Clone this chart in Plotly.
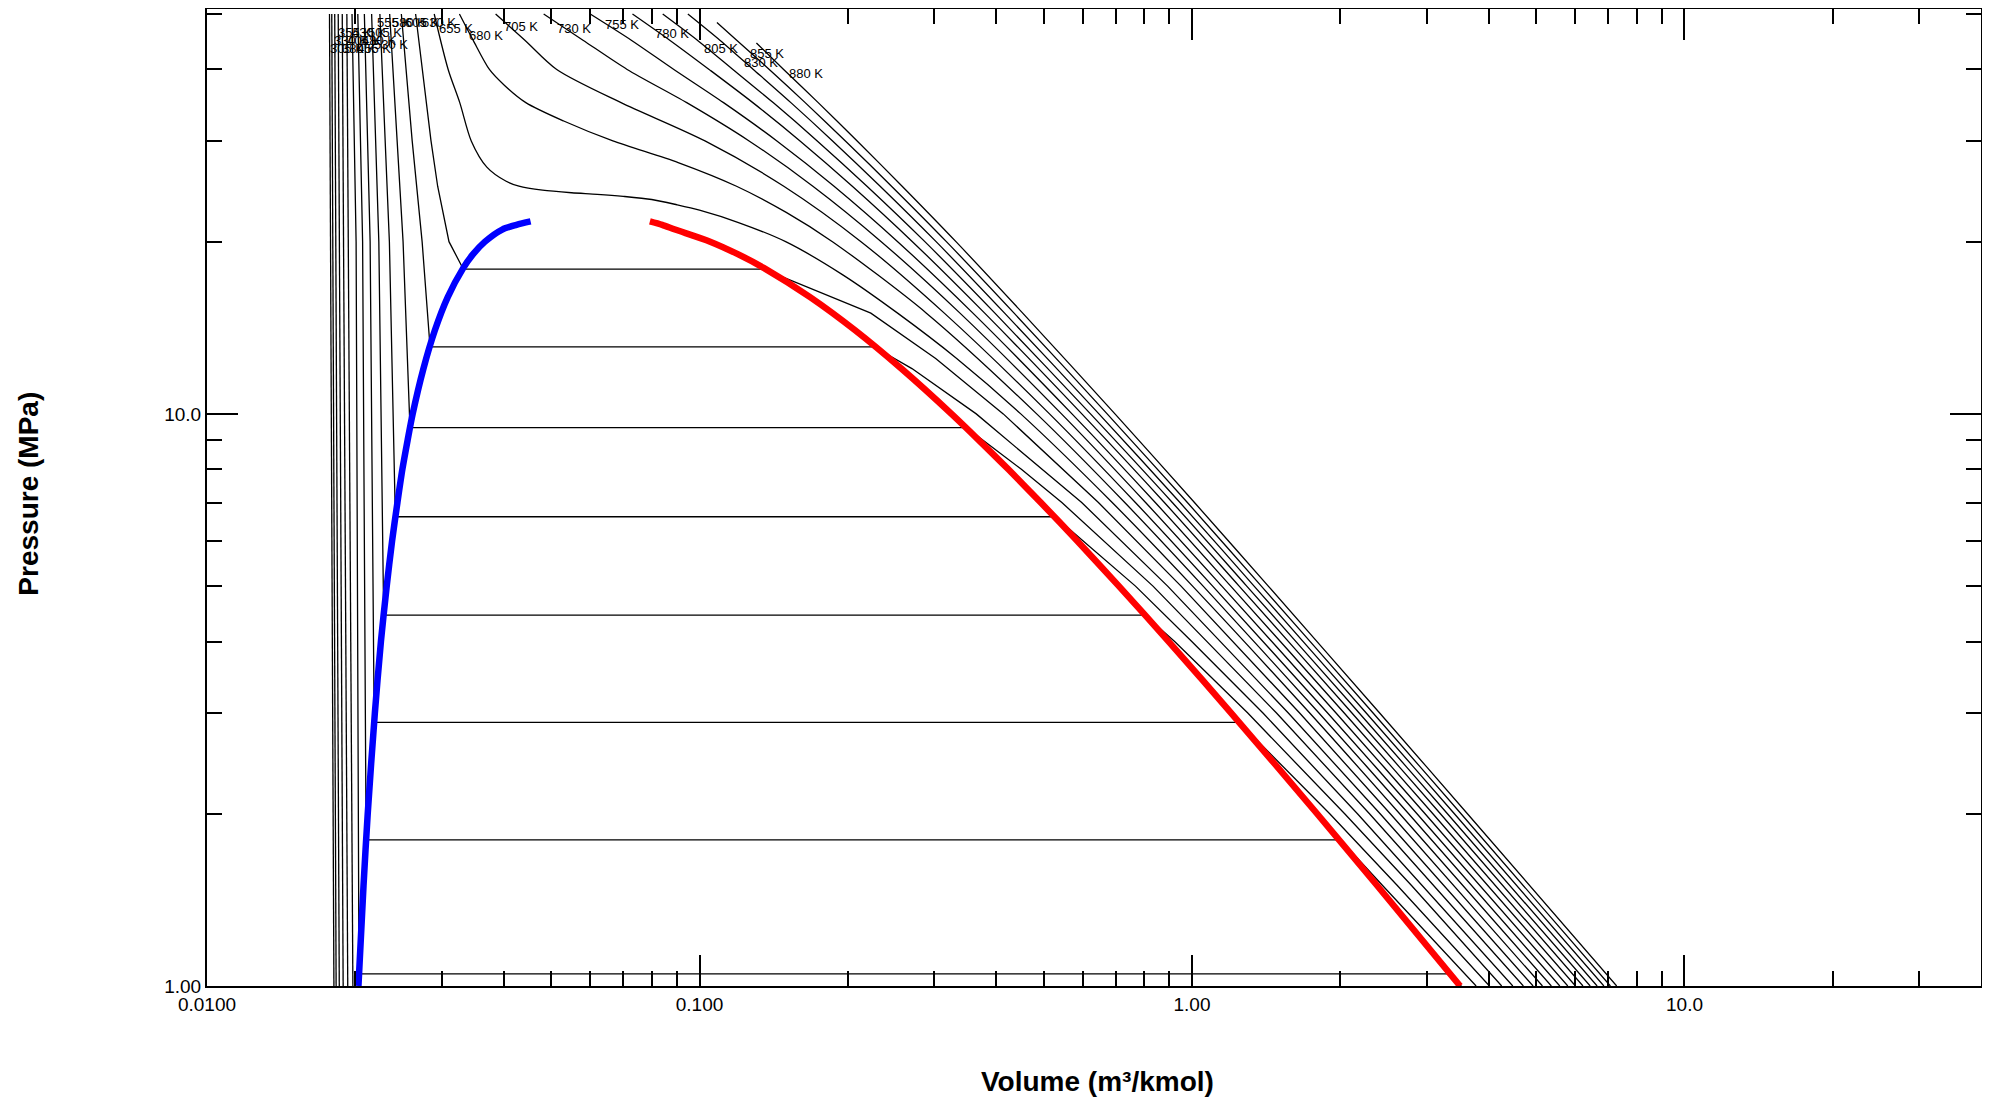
import plotly.graph_objects as go
import math

# ---------------- data ----------------
# Isotherm temperatures (K)
temps = [305, 330, 355, 380, 405, 430, 455, 480, 505, 530, 555, 580, 605, 630,
         655, 680, 705, 730, 755, 780, 805, 830, 855, 880]

# Pressure (MPa) / molar volume (m3/kmol) points of each isotherm, top to bottom
iso_P = {
    305: [50, 1], 330: [50, 1], 355: [50, 1], 380: [50, 1], 405: [50, 1], 430: [50, 1],
    455: [50, 20, 1.05, 1.05, 1.0],
    480: [50, 20, 1.80, 1.80, 1.5, 1.0],
    505: [50, 20, 2.89, 2.89, 2.0, 1.5, 1.0],
    530: [50, 20, 4.45, 4.45, 4.0, 3.0, 2.0, 1.5, 1.0],
    555: [50, 20, 6.61, 6.61, 5.0, 4.0, 3.0, 2.0, 1.0],
    580: [50, 30, 20, 9.46, 9.46, 8.0, 7.0, 5.0, 3.0, 2.0, 1.0],
    605: [50, 30, 20, 13.1, 13.1, 12.0, 10.0, 7.0, 5.0, 3.0, 2.0, 1.0],
    630: [50, 40, 30, 25, 20, 17.9, 17.9, 15.0, 12.5, 10.0, 7.0, 5.0, 3.0, 2.0, 1.0],
    655: [50, 40, 35, 30, 27, 25.5, 25.0, 24.6, 24.35, 24.2, 24.0, 23.7, 23.2, 22.7, 21.6,
          20, 17.5, 15, 12.5, 10, 7, 5, 3, 2, 1],
    680: [50, 45, 40, 37.5, 35, 32.5, 30, 27.5, 25, 22.5, 20, 15, 10, 7, 5, 3, 2, 1],
    705: [50, 45, 40, 35, 30, 25, 20, 15, 10, 7, 5, 3, 2, 1],
    730: [50, 45, 40, 35, 30, 25, 20, 15, 10, 7, 5, 3, 2, 1],
    755: [50, 45, 40, 35, 30, 25, 20, 15, 10, 7, 5, 3, 2, 1],
    780: [50, 45, 40, 35, 30, 25, 20, 15, 10, 7, 5, 3, 2, 1],
    805: [50, 45, 40, 35, 30, 25, 20, 15, 10, 7, 5, 3, 2, 1],
    830: [50, 45, 40, 35, 30, 25, 20, 15, 10, 7, 5, 3, 2, 1],
    855: [48.3, 45, 40, 35, 30, 25, 20, 15, 10, 7, 5, 3, 2, 1],
    880: [44.5, 40, 35, 30, 25, 20, 15, 10, 7, 5, 3, 2, 1],
}
iso_V = {
    305: [0.01773, 0.01810], 330: [0.01792, 0.01829], 355: [0.01817, 0.01856],
    380: [0.01847, 0.01890], 405: [0.01882, 0.01931], 430: [0.01923, 0.01978],
    455: [0.01970, 0.02008, 0.02035, 3.360, 3.522],
    480: [0.02024, 0.02070, 0.02104, 2.003, 2.435, 3.775],
    505: [0.02087, 0.02144, 0.02185, 1.247, 1.904, 2.609, 4.018],
    530: [0.02159, 0.02233, 0.02284, 0.8028, 0.9221, 1.298, 2.042, 2.788, 4.254],
    555: [0.02244, 0.02346, 0.02412, 0.5271, 0.7678, 0.999, 1.3935, 2.1676, 4.481],
    580: [0.02349, 0.0243, 0.02501, 0.02583, 0.3484, 0.4504, 0.5442, 0.8333, 1.4846, 2.293, 4.708],
    605: [0.02481, 0.0261, 0.02734, 0.02837, 0.2263, 0.2700, 0.3647, 0.5971, 0.8923, 1.5689, 2.410, 4.927],
    630: [0.02652, 0.0274, 0.0285, 0.0294, 0.0310, 0.03315, 0.1349, 0.2228, 0.3017, 0.4138,
          0.6457, 0.9501, 1.6541, 2.527, 5.148],
    655: [0.02893, 0.03088, 0.0326, 0.0344, 0.0370, 0.0405, 0.043, 0.048, 0.055, 0.062, 0.070,
          0.080, 0.090, 0.100, 0.120, 0.1496, 0.1954, 0.2525, 0.3328, 0.4491, 0.6887, 1.0027,
          1.7339, 2.6406, 5.366],
    680: [0.03255, 0.0347, 0.03745, 0.0402, 0.0444, 0.053, 0.0667, 0.0905, 0.1189, 0.150, 0.1862,
          0.2889, 0.4838, 0.7302, 1.0536, 1.8101, 2.7535, 5.582],
    705: [0.03855, 0.0442, 0.0513, 0.0693, 0.1026, 0.1483, 0.2128, 0.3141, 0.5137, 0.7675,
          1.1014, 1.8852, 2.8633, 5.795],
    730: [0.04826, 0.058, 0.0713, 0.0942, 0.1261, 0.1699, 0.2339, 0.3380, 0.5433, 0.8050,
          1.1497, 1.9610, 2.9734, 6.007],
    755: [0.0600, 0.0727, 0.0887, 0.1119, 0.1436, 0.1876, 0.2526, 0.3591, 0.5706, 0.8422,
          1.1985, 2.0374, 3.0840, 6.221],
    780: [0.0731, 0.0870, 0.1046, 0.1283, 0.1600, 0.2043, 0.2706, 0.3794, 0.5975, 0.8788,
          1.2466, 2.1124, 3.1942, 6.434],
    805: [0.0842, 0.0990, 0.1169, 0.1411, 0.1734, 0.2188, 0.2868, 0.3980, 0.6222, 0.9122,
          1.2916, 2.1852, 3.3016, 6.647],
    830: [0.0947, 0.1100, 0.1286, 0.1533, 0.1863, 0.2327, 0.3023, 0.4164, 0.6472, 0.9453,
          1.3369, 2.2583, 3.4103, 6.860],
    855: [0.1085, 0.1190, 0.1386, 0.1639, 0.1978, 0.2454, 0.3172, 0.4353, 0.6726, 0.9787,
          1.3828, 2.3318, 3.518, 7.072],
    880: [0.1305, 0.1482, 0.1742, 0.2090, 0.2579, 0.3317, 0.4532, 0.6976, 1.0116, 1.4287,
          2.4046, 3.6249, 7.283],
}
# isotherms whose course is smooth (no tie line) get a spline
smooth_T = [655, 680, 705, 730, 755, 780, 805, 830, 855, 880]

# Saturation dome (MPa, m3/kmol)
sat_P = [1.0, 1.5, 2, 3, 4, 5, 6, 7, 8, 9, 10, 12, 14, 16, 18, 19, 20, 21, 21.4, 21.7]
sat_liq_V = [0.02030, 0.02079, 0.02120, 0.02192, 0.02255, 0.02317, 0.02376, 0.02436, 0.02493,
             0.02555, 0.02616, 0.02751, 0.02902, 0.03082, 0.03315, 0.03466, 0.03668, 0.03976,
             0.0425, 0.0454]
sat_vap_V = [3.503, 2.374, 1.795, 1.2012, 0.8968, 0.7105, 0.5844, 0.4931, 0.4237, 0.3689,
             0.3248, 0.2569, 0.2070, 0.1677, 0.1350, 0.1199, 0.1051, 0.0892, 0.0840, 0.0793]

# Isotherm label anchor points (m3/kmol, MPa)
label_T = [305, 330, 355, 380, 405, 430, 455, 480, 505, 530, 555, 580, 605, 630,
           655, 680, 705, 730, 755, 780, 805, 830, 855, 880]
label_V = [0.01761, 0.01794, 0.01828, 0.01863, 0.01907, 0.01952, 0.01998, 0.02045, 0.02103,
           0.02163, 0.02193, 0.02352, 0.0250, 0.02707, 0.02931, 0.03372, 0.03972, 0.05087,
           0.06368, 0.08042, 0.1012, 0.1220, 0.1255, 0.1506]
label_P = [43.45, 44.86, 46.33, 43.45, 44.86, 46.33, 43.45, 44.86, 46.33, 44.14, 48.23, 48.23,
           48.23, 48.4, 47.1, 45.9, 47.5, 47.2, 47.9, 46.3, 43.5, 41.2, 42.7, 39.3]

x_tickvals = [0.01, 0.1, 1, 10]
x_ticktext = ["0.0100", "0.100", "1.00", "10.0"]
y_tickvals = [1, 10]
y_ticktext = ["1.00", "10.0"]

FONT = "Arial, Liberation Sans, sans-serif"

# ---------------- figure ----------------
fig = go.Figure()
for T in temps:
    fig.add_trace(go.Scatter(x=iso_V[T], y=iso_P[T], mode="lines",
                             line=dict(color="black", width=1.3,
                                       shape="spline" if T in smooth_T else "linear",
                                       smoothing=0.8),
                             hoverinfo="skip", showlegend=False))

fig.add_trace(go.Scatter(x=sat_liq_V, y=sat_P, mode="lines",
                         line=dict(color="#0000ff", width=6.5, shape="spline", smoothing=0.8),
                         showlegend=False))
fig.add_trace(go.Scatter(x=sat_vap_V, y=sat_P, mode="lines",
                         line=dict(color="#ff0000", width=6.5, shape="spline", smoothing=0.8),
                         showlegend=False))

for T, v, p in zip(label_T, label_V, label_P):
    fig.add_annotation(x=math.log10(v), y=math.log10(p), xref="x", yref="y",
                       text=f"{T} K", showarrow=False, xanchor="left", yanchor="middle",
                       font=dict(size=13, color="black", family=FONT))

minor_x = [m * 10 ** k for k in range(-2, 2) for m in range(2, 10)]
minor_y = [m * 10 ** k for k in range(0, 2) for m in range(2, 10)]

fig.update_xaxes(type="log", range=[-2, math.log10(40)], tickvals=x_tickvals,
                 ticktext=x_ticktext, ticks="inside", ticklen=31, tickwidth=1.5,
                 tickcolor="black", showline=True, linewidth=2, linecolor="black",
                 mirror="allticks", showgrid=False, zeroline=False, automargin=False,
                 tickfont=dict(size=19, color="black", family=FONT),
                 minor=dict(tickvals=minor_x, ticks="inside", ticklen=15, tickwidth=1.5,
                            tickcolor="black", showgrid=False))
fig.update_yaxes(type="log", range=[0, 1.7077], tickvals=y_tickvals, ticktext=y_ticktext,
                 ticks="inside", ticklen=31, tickwidth=1.5, tickcolor="black",
                 showline=True, linewidth=2, linecolor="black", mirror="allticks",
                 showgrid=False, zeroline=False, automargin=False,
                 tickfont=dict(size=19, color="black", family=FONT),
                 minor=dict(tickvals=minor_y, ticks="inside", ticklen=15, tickwidth=1.5,
                            tickcolor="black", showgrid=False))

fig.add_annotation(x=0.5017, y=-0.0982, xref="paper", yref="paper",
                   text="<b>Volume (m³/kmol)</b>", showarrow=False,
                   xanchor="center", yanchor="middle",
                   font=dict(size=28, color="black", family=FONT))
fig.add_annotation(x=-0.1003, y=0.504, xref="paper", yref="paper",
                   text="<b>Pressure (MPa)</b>", showarrow=False, textangle=-90,
                   xanchor="center", yanchor="middle",
                   font=dict(size=28, color="black", family=FONT))

# the page body adds an 8 px offset; the figure is sized so the plot frame sits
# where the reference has it
fig.update_layout(width=1982, height=1098, margin=dict(l=199, r=9, t=1, b=120),
                  plot_bgcolor="white", paper_bgcolor="white", showlegend=False)

fig.write_html("out.html")
